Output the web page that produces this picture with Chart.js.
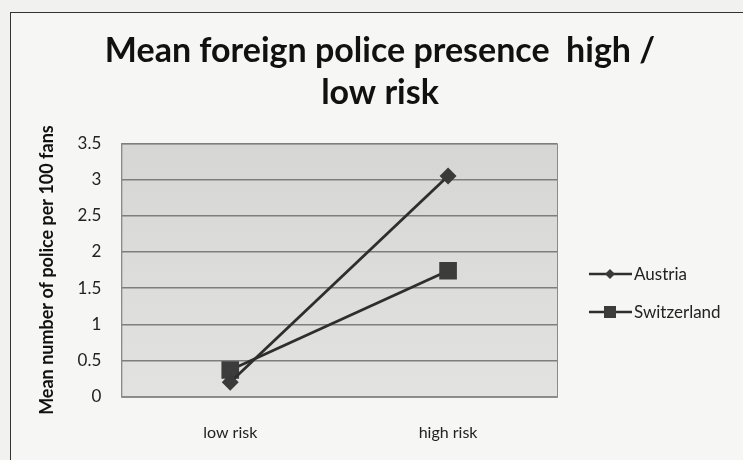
<!DOCTYPE html>
<html>
<head>
<meta charset="utf-8">
<script src="https://cdn.jsdelivr.net/npm/chart.js@4/dist/chart.umd.min.js"></script>
<style>
  html, body { margin: 0; padding: 0; background: #f1f1ef; }
  #wrap { position: relative; width: 743px; height: 460px; overflow: hidden; }
  #frame { position: absolute; left: 10px; top: 12px; width: 760px; height: 480px; border: 1px solid #333; box-sizing: border-box; background: #f6f6f4; }
  #holder { position: absolute; left: 0; top: 0; width: 743px; height: 460px; }
</style>
</head>
<body>
<div id="wrap">
  <div id="frame"></div>
  <div id="holder"><canvas id="chart" width="743" height="460"></canvas></div>
</div>
<script>
// данные с графика
const categories = ['low risk', 'high risk'];
const austria = [0.2, 3.05];
const switzerland = [0.37, 1.74];
const seriesNames = ['Austria', 'Switzerland'];
const yTicks = [0, 0.5, 1, 1.5, 2, 2.5, 3, 3.5];

const FONT = 'Lato, "Open Sans", sans-serif';

// фон области построения
const plotBg = {
    id: 'plotBg',
    beforeDraw(chart) {
        const a = chart.chartArea;
        const c = chart.ctx;
        const g = c.createLinearGradient(0, a.top, 0, a.bottom);
        g.addColorStop(0, '#d6d6d4');
        g.addColorStop(1, '#e2e2e0');
        c.save();
        c.fillStyle = g;
        c.fillRect(a.left, a.top, a.right - a.left, a.bottom - a.top);
        c.strokeStyle = '#8a8a8a';
        c.lineWidth = 1;
        c.strokeRect(a.left + 0.5, a.top + 0.5, a.right - a.left, a.bottom - a.top);
        c.restore();
    }
};

// заголовок центрируем по всей ширине рамки, а не по области без легенды
const titleCenter = {
    id: 'titleCenter',
    afterLayout(chart) {
        const t = chart.titleBlock;
        if (t) {
            t.left = 0;
            t.right = 760;
            t.width = 760;
        }
    }
};

// легенда как в Excel: линия + маркер
const sideLegend = {
    id: 'sideLegend',
    afterDraw(chart) {
        const c = chart.ctx;
        const x0 = 589;
        let y = 274;
        chart.data.datasets.forEach((ds) => {
            c.save();
            c.strokeStyle = ds.borderColor;
            c.lineWidth = 2.5;
            c.beginPath();
            c.moveTo(x0, y);
            c.lineTo(x0 + 43, y);
            c.stroke();
            c.fillStyle = ds.pointBackgroundColor;
            c.beginPath();
            if (ds.pointStyle === 'rectRot') {
                c.moveTo(x0 + 21, y - 5);
                c.lineTo(x0 + 26, y);
                c.lineTo(x0 + 21, y + 5);
                c.lineTo(x0 + 16, y);
                c.closePath();
            } else {
                c.rect(x0 + 15, y - 6, 12, 12);
            }
            c.fill();
            c.fillStyle = '#222';
            c.font = '17px ' + FONT;
            c.textBaseline = 'middle';
            c.fillText(ds.label, x0 + 45, y + 1);
            c.restore();
            y += 38;
        });
    }
};

const ctx = document.getElementById('chart').getContext('2d');
const chart = new Chart(ctx, {
    type: 'line',
    data: {
        labels: categories,
        datasets: [
            {
                label: seriesNames[0],
                data: austria,
                borderColor: '#2e2e2e',
                borderWidth: 2.8,
                pointStyle: 'rectRot',
                pointRadius: 6.5,
                pointBackgroundColor: '#3a3a3a',
                pointBorderColor: '#3a3a3a',
                fill: false,
                tension: 0
            },
            {
                label: seriesNames[1],
                data: switzerland,
                borderColor: '#2e2e2e',
                borderWidth: 2.8,
                pointStyle: 'rect',
                pointRadius: 10.5,
                pointBackgroundColor: '#3c3c3c',
                pointBorderColor: '#3c3c3c',
                fill: false,
                tension: 0
            }
        ]
    },
    options: {
        responsive: false,
        animation: false,
        layout: { padding: { left: 36, right: 186, top: 0, bottom: -8 } },
        plugins: {
            legend: { display: false },
            tooltip: { enabled: false },
            title: {
                display: true,
                text: ['Mean foreign police presence  high /', 'low risk'],
                color: '#111',
                font: { family: FONT, size: 34, weight: 'bold', lineHeight: 1.24 },
                padding: { top: 30, bottom: 29 }
            }
        },
        scales: {
            x: {
                offset: true,
                grid: { display: false, drawTicks: false },
                border: { color: '#8a8a8a' },
                ticks: { color: '#222', font: { family: FONT, size: 16 }, padding: 26 }
            },
            y: {
                min: 0,
                max: 3.5,
                afterBuildTicks(axis) {
                    axis.ticks = yTicks.map(v => ({ value: v }));
                },
                grid: { color: '#7e7e7e', lineWidth: 1.5, drawTicks: false },
                border: { color: '#8a8a8a' },
                ticks: {
                    color: '#222',
                    font: { family: FONT, size: 17 },
                    padding: 20,
                    callback: (v) => String(v)
                },
                title: {
                    display: true,
                    text: 'Mean number of police per 100 fans',
                    color: '#111',
                    font: { family: FONT, size: 18, weight: 'bold' },
                    padding: { top: 0, bottom: 0 }
                }
            }
        }
    },
    plugins: [plotBg, titleCenter, sideLegend]
});
</script>
</body>
</html>
